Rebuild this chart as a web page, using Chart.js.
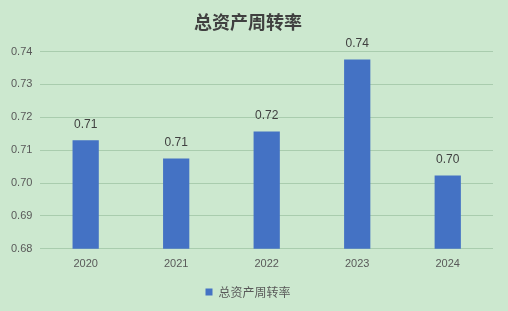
<!DOCTYPE html>
<html>
<head>
<meta charset="utf-8">
<script src="https://cdn.jsdelivr.net/npm/chart.js@4/dist/chart.umd.min.js"></script>
<style>
  html, body { margin: 0; padding: 0; background: #cce8cf; }
  #wrap { width: 508px; height: 311px; }
</style>
</head>
<body>
<div id="wrap"><canvas id="chart"></canvas></div>
<script>
// Data
const years = ['2020', '2021', '2022', '2023', '2024'];
const turnover = [0.713, 0.7075, 0.7157, 0.7376, 0.7023];
const seriesName = '总资产周转率';

const textColor = '#595959';
const barColor = '#4472c4';

// Draws the value above each bar, two decimals like the source
const valueLabels = {
    id: 'valueLabels',
    afterDatasetsDraw(chart) {
        const ctx = chart.ctx;
        const meta = chart.getDatasetMeta(0);
        ctx.save();
        ctx.font = '12px "Liberation Sans", Arial, sans-serif';
        ctx.fillStyle = '#404040';
        ctx.textAlign = 'center';
        ctx.textBaseline = 'middle';
        meta.data.forEach((bar, i) => {
            ctx.fillText(turnover[i].toFixed(2), bar.x, bar.y - 16);
        });
        ctx.restore();
    }
};

new Chart(document.getElementById('chart'), {
    type: 'bar',
    data: {
        labels: years,
        datasets: [{
            label: seriesName,
            data: turnover,
            backgroundColor: barColor,
            categoryPercentage: 1.0,
            barPercentage: 0.29
        }]
    },
    options: {
        responsive: true,
        maintainAspectRatio: false,
        animation: false,
        layout: { padding: { left: 3, right: 15, top: 0, bottom: 3 } },
        plugins: {
            title: {
                display: true,
                text: seriesName,
                color: '#404040',
                font: { family: '"Noto Sans CJK SC", sans-serif', size: 18, weight: 'bold' },
                padding: { top: 11, bottom: 19 }
            },
            legend: {
                position: 'bottom',
                labels: {
                    color: textColor,
                    boxWidth: 7,
                    boxHeight: 7,
                    padding: 6,
                    font: { family: '"Noto Sans CJK SC", sans-serif', size: 12 }
                }
            },
            tooltip: { enabled: false }
        },
        scales: {
            x: {
                grid: { display: false, drawTicks: false },
                border: { display: false },
                ticks: {
                    color: textColor,
                    font: { family: '"Liberation Sans", Arial, sans-serif', size: 11 },
                    padding: 9
                }
            },
            y: {
                min: 0.68,
                max: 0.74,
                grid: { color: 'rgba(90,140,100,0.3)', drawTicks: false },
                border: { display: false },
                ticks: {
                    stepSize: 0.01,
                    color: textColor,
                    padding: 8,
                    font: { family: '"Liberation Sans", Arial, sans-serif', size: 11 },
                    callback: v => v.toFixed(2)
                }
            }
        }
    },
    plugins: [valueLabels]
});
</script>
</body>
</html>
